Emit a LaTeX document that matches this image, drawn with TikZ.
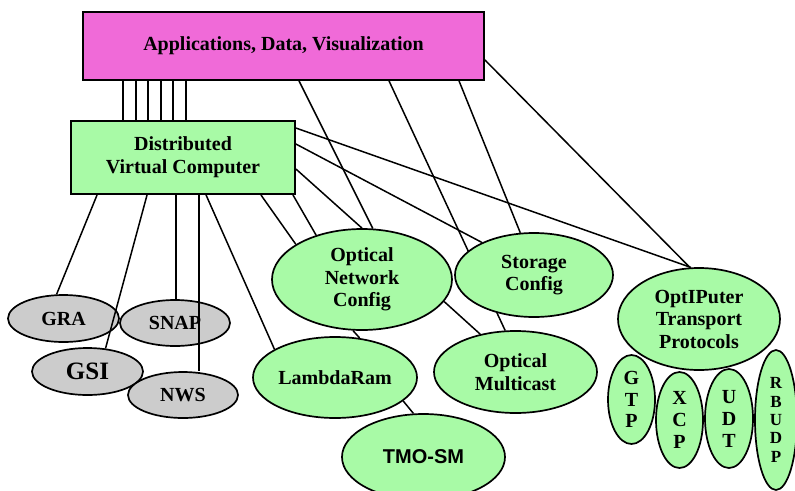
\documentclass[tikz,border=0pt]{standalone}
\usepackage{fontspec}
\setmainfont{Liberation Serif}
\newfontfamily\arialfont{Liberation Sans}
\usetikzlibrary{shapes.geometric}
\definecolor{magentabox}{RGB}{240,106,216}
\definecolor{lgreen}{RGB}{168,250,166}
\definecolor{lgray}{RGB}{204,204,204}
\pgfdeclarelayer{grayl}
\pgfdeclarelayer{lines}
\pgfsetlayers{grayl,lines,main}
\begin{document}
\begin{tikzpicture}[x=1pt,y=-1pt,
  conn/.style={line width=1.5pt},
  box/.style={draw, line width=1.9pt, rectangle, inner sep=0pt, align=center,
    font=\bfseries\fontsize{20}{23}\selectfont},
  oval/.style={draw, line width=1.7pt, ellipse, inner sep=0pt, align=center,
    font=\bfseries\fontsize{20}{22.5}\selectfont},
  greenoval/.style={oval, fill=lgreen},
  grayoval/.style={oval, fill=lgray},
  letters/.style={greenoval, font=\bfseries\fontsize{20}{21.5}\selectfont},
  smallletters/.style={greenoval, font=\bfseries\fontsize{17}{18.3}\selectfont}
]
\useasboundingbox (0,0) rectangle (795,490);

% boxes
\node[box, fill=magentabox, minimum width=401pt, minimum height=68pt] (apps) at (283.5,46) {Applications, Data, Visualization};
\node[box, fill=lgreen, minimum width=224pt, minimum height=73pt] (dvc) at (183,157.5) {Distributed\\Virtual Computer};

% gray ovals (below the connectors)
\begin{pgfonlayer}{grayl}
\node[grayoval, minimum width=111pt, minimum height=47pt] (gra) at (63.5,318.5) {GRA};
\node[grayoval, minimum width=110pt, minimum height=46pt] (snap) at (175,323) {SNAP};
\node[grayoval, minimum width=111pt, minimum height=47pt, font=\bfseries\fontsize{25}{28}\selectfont] (gsi) at (87.5,371.5) {GSI};
\node[grayoval, minimum width=110pt, minimum height=46pt] (nws) at (183,395) {NWS};
\end{pgfonlayer}

% green ovals
\node[greenoval, minimum width=180pt, minimum height=101pt] (onc) at (362,279.5) {Optical\\Network\\Config};
\node[greenoval, minimum width=158pt, minimum height=84pt] (sc) at (534,275) {Storage\\Config};
\node[greenoval, minimum width=163pt, minimum height=82pt] (om) at (515.5,372) {Optical\\Multicast};
\node[greenoval, minimum width=162pt, minimum height=102pt] (opt) at (699,319) {OptIPuter\\Transport\\Protocols};
\node[greenoval, minimum width=164pt, minimum height=81pt] (lr) at (335,377.5) {LambdaRam};
\node[greenoval, minimum width=163pt, minimum height=86pt, font=\arialfont\bfseries\fontsize{20}{22.5}\selectfont] (tmo) at (423.5,457) {TMO-SM};
\node[letters, minimum width=47pt, minimum height=89pt] (gtp) at (631.5,399.5) {G\\T\\P};
\node[letters, minimum width=47pt, minimum height=96pt, font=\bfseries\fontsize{20}{22}\selectfont] (xcp) at (679.5,420) {X\\C\\P};
\node[letters, minimum width=48pt, minimum height=99pt, font=\bfseries\fontsize{20}{22}\selectfont] (udt) at (729,418.5) {U\\D\\T};
\node[smallletters, minimum width=42pt, minimum height=140pt] (rbudp) at (776,420) {R\\B\\U\\D\\P};

% connectors
\begin{pgfonlayer}{lines}
\foreach \i/\dx in {1/41,2/54,3/66,4/79,5/91,6/104} {
  \coordinate (t\i) at ([xshift=\dx pt]apps.south west);
  \draw[conn] (t\i) -- (t\i |- dvc.north);
}
\draw[conn] ([xshift=217pt]apps.south west) -- (onc.78);
\draw[conn] ([xshift=307pt]apps.south west) -- (om.104);
\draw[conn] ([xshift=377pt]apps.south west) -- (sc.108);
\draw[conn] ([yshift=-14pt]apps.east) -- (opt.100);
\draw[conn] ([yshift=-8pt]dvc.north east) -- (opt.99);
\draw[conn] ([yshift=-24pt]dvc.north east) -- (sc.148);
\draw[conn] ([yshift=-49pt]dvc.north east) -- (onc.north);
\draw[conn] ([xshift=-35pt]dvc.south east) -- (onc.152);
\draw[conn] ([xshift=-3pt]dvc.south east) -- (onc.136);
\draw[conn] ([xshift=27pt]dvc.south west) -- (gra.106);
\draw[conn] ([xshift=77pt]dvc.south west) -- (gsi.52);
\coordinate (s13) at ([xshift=106pt]dvc.south west);
\draw[conn] (s13) -- (s13 |- snap.north);
\coordinate (s14) at ([xshift=129pt]dvc.south west);
\draw[conn] (s14) -- (s14 |- nws.north);
\draw[conn] ([xshift=136pt]dvc.south west) -- (lr.155);
\draw[conn] (onc.260) -- (lr.58);
\draw[conn] (onc.-15) -- (om.133);
\draw[conn] (lr.-19) -- (tmo.103);
\end{pgfonlayer}
\end{tikzpicture}
\end{document}
